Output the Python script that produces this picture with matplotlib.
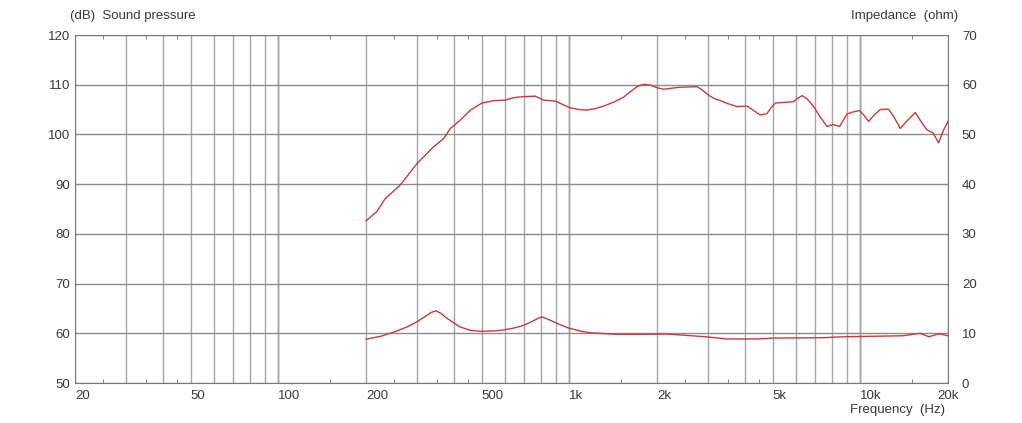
import matplotlib
matplotlib.use("Agg")
import matplotlib.pyplot as plt
from matplotlib.ticker import FixedLocator, NullFormatter

# sound pressure curve
spl_freq = [200, 218, 233, 262, 300, 337, 370, 390, 422, 457, 500, 549, 602, 643,
            696, 764, 815, 895, 1000, 1080, 1149, 1230, 1311, 1420, 1535, 1620,
            1707, 1799, 1900, 2000, 2107, 2405, 2745, 2850, 3008, 3150, 3301,
            3500, 3766, 4076, 4300, 4529, 4775, 4950, 5100, 5893, 6100, 6300,
            6550, 6906, 7300, 7678, 8050, 8482, 8995, 9400, 9940, 10300, 10670,
            11100, 11700, 12500, 13100, 13710, 14500, 15440, 16200, 16940,
            17770, 18560, 19320, 20000]
spl_db = [82.6, 84.5, 87.1, 89.8, 94.2, 97.2, 99.2, 101.2, 102.9, 104.9, 106.3,
          106.8, 106.9, 107.4, 107.6, 107.7, 106.9, 106.7, 105.4, 105.0, 104.9,
          105.2, 105.7, 106.5, 107.5, 108.6, 109.6, 110.1, 109.9, 109.4, 109.1,
          109.5, 109.6, 109.0, 107.9, 107.2, 106.8, 106.2, 105.6, 105.7, 104.8,
          103.9, 104.2, 105.5, 106.3, 106.6, 107.3, 107.8, 107.2, 105.6, 103.4,
          101.6, 102.0, 101.6, 104.1, 104.5, 104.8, 103.8, 102.6, 103.8, 105.0,
          105.1, 103.3, 101.2, 102.8, 104.4, 102.5, 100.9, 100.3, 98.3, 100.9,
          102.6]

# impedance curve
imp_freq = [200, 225, 248, 275, 299, 320, 335, 348, 362, 380, 398, 420, 456, 496,
            560, 598, 650, 696, 740, 780, 806, 830, 860, 898, 950, 1000, 1100,
            1179, 1445, 1771, 2170, 2945, 3488, 4420, 5070, 7360, 8710, 14000,
            16040, 17170, 18690, 20000]
imp_ohm = [8.8, 9.4, 10.2, 11.2, 12.3, 13.4, 14.2, 14.5, 14.0, 13.0, 12.2, 11.3,
           10.6, 10.4, 10.5, 10.7, 11.1, 11.6, 12.3, 13.0, 13.3, 13.0, 12.6, 12.1,
           11.5, 11.0, 10.4, 10.1, 9.8, 9.8, 9.85, 9.3, 8.85, 8.85, 9.05, 9.1,
           9.3, 9.5, 10.0, 9.3, 9.9, 9.5]

label_freqs = [20, 50, 100, 200, 500, 1000, 2000, 5000, 10000, 20000]
label_texts = ["20", "50", "100", "200", "500", "1k", "2k", "5k", "10k", "20k"]
grid_freqs = [m * d for d in (10, 100, 1000) for m in range(1, 10) if m * d >= 30]
half_freqs = [m * d for d in (10, 100, 1000) for m in (2.5, 3.5, 4.5, 15)]
decade_freqs = [100, 1000, 10000]
spl_ticks = list(range(50, 121, 10))
imp_ticks = list(range(0, 71, 10))

TEXT = "#3a3a3a"
VGRID = "#a6a6a6"
HGRID = "#8c8c8c"
CURVE = "#c83a3a"

plt.rcParams["font.family"] = ["Liberation Sans", "DejaVu Sans"]
plt.rcParams["font.size"] = 9.5

fig = plt.figure(figsize=(10.22, 4.23), dpi=100)
ax = fig.add_axes([75 / 1022, 40 / 423, 873 / 1022, 348 / 423])
ax.set_xscale("log")
ax.set_xlim(20, 20000)
ax.set_ylim(50, 120)

# grid lines
ax.xaxis.set_minor_locator(FixedLocator(grid_freqs))
ax.xaxis.set_minor_formatter(NullFormatter())
ax.set_xticks(label_freqs, label_texts)
ax.set_yticks(spl_ticks)
ax.grid(True, axis="x", which="both", color=VGRID, linewidth=1.0)
ax.grid(True, axis="y", which="major", color=HGRID, linewidth=1.0)
for f in decade_freqs:
    ax.axvline(f, color="#7a7a7a", linewidth=1.0, zorder=1)
ax.tick_params(which="both", length=0, colors=TEXT, labelsize=9.5)
ax.tick_params(axis="x", pad=5)
for lab in ax.get_xticklabels()[:-1]:
    lab.set_ha("left")
for s in ax.spines.values():
    s.set_color("#7a7a7a")

# small inward ticks at half positions, bottom and top
for side in ("bottom", "top"):
    sec = ax.secondary_xaxis(side)
    sec.set_xticks(half_freqs)
    sec.xaxis.set_minor_locator(FixedLocator([]))
    sec.tick_params(which="both", direction="in", length=3, color="#8a8a8a",
                    labelbottom=False, labeltop=False)
    sec.spines[side].set_visible(False)

ax.plot(spl_freq, spl_db, color=CURVE, linewidth=1.0, zorder=3)

ax2 = ax.twinx()
ax2.set_ylim(0, 70)
ax2.set_yticks(imp_ticks)
ax2.tick_params(length=0, colors=TEXT, labelsize=9.5, pad=10)
for s in ax2.spines.values():
    s.set_visible(False)
ax2.plot(imp_freq, imp_ohm, color=CURVE, linewidth=1.0, zorder=3)

fig.text(70 / 1022, 1 - 16 / 423, "(dB)  Sound pressure", ha="left", va="center",
         color=TEXT, fontsize=9.5)
fig.text(958 / 1022, 1 - 16 / 423, "Impedance  (ohm)", ha="right", va="center",
         color=TEXT, fontsize=9.5)
fig.text(945 / 1022, 1 - 410 / 423, "Frequency  (Hz)", ha="right", va="center",
         color=TEXT, fontsize=9.5)

fig.savefig("out.png", dpi=100)
